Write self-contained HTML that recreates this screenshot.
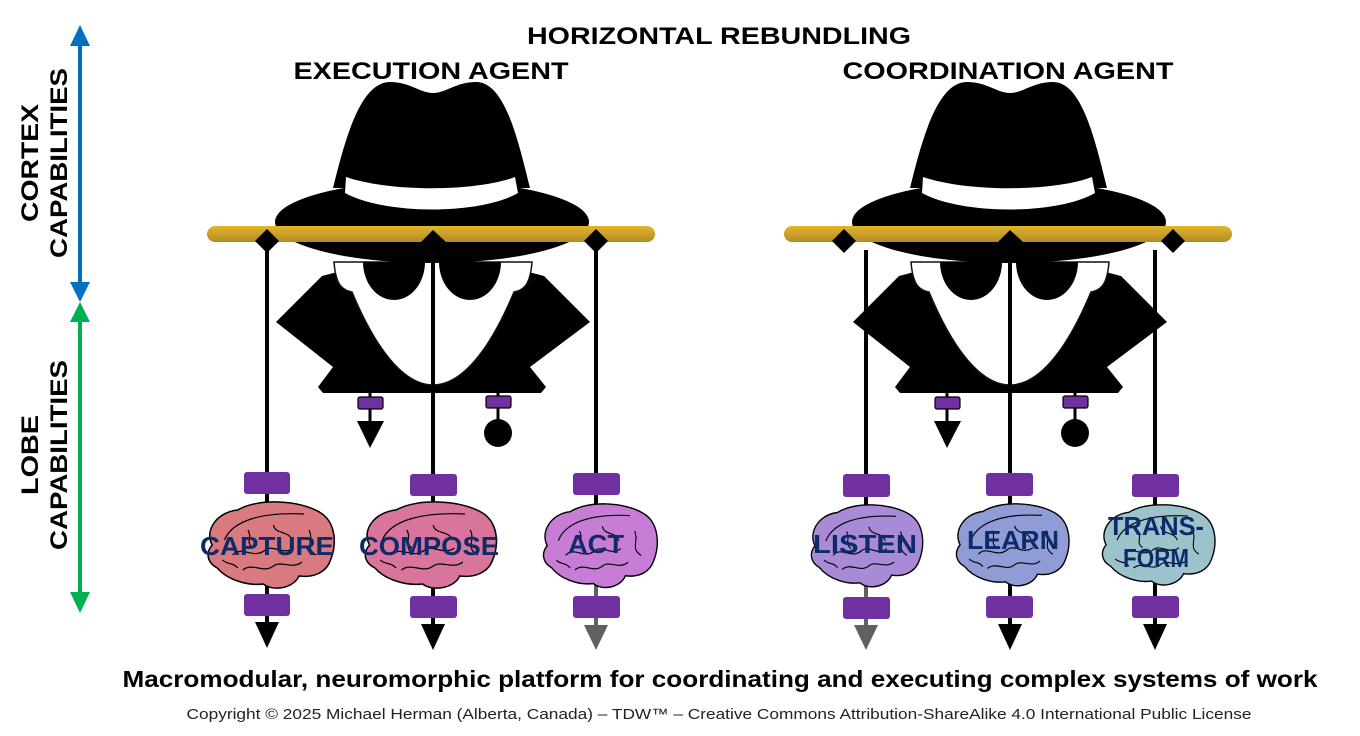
<!DOCTYPE html>
<html><head><meta charset="utf-8"><style>
html,body{margin:0;padding:0;background:#fff;}
svg{display:block;}
text{font-family:"Liberation Sans",sans-serif;}
</style></head><body>
<svg width="1360" height="736" viewBox="0 0 1360 736" xmlns="http://www.w3.org/2000/svg">
<defs>
<linearGradient id="gold" x1="0" y1="0" x2="0" y2="1">
<stop offset="0" stop-color="#e2b52a"/><stop offset="1" stop-color="#b38a25"/>
</linearGradient>
<g id="agent">
  <path d="M276,322 L322,276 L345,270 L521,270 L544,276 L590,322 L530,367 L546,387 L541,393 L323,393 L318,387 L333,367 Z" fill="#000"/>
  <path d="M334,262 C336,288 344,290 352,292 C372,340 400,385 433,385 C466,385 494,340 514,292 C522,290 530,288 532,262 Z" fill="#fff" stroke="#111" stroke-width="1.5"/>
  <path d="M363,262 A31,38 0 0 0 425,262 Z" fill="#000"/>
  <path d="M439,262 A31,38 0 0 0 501,262 Z" fill="#000"/>
  <ellipse cx="432" cy="222" rx="157" ry="41" fill="#000"/>
  <path d="M333,188 C345,140 360,82 390,82 C410,82 420,93 433,93 C446,93 456,82 476,82 C505,82 518,140 530,188 Z" fill="#000"/>
  <path d="M346,177 C390,192 475,192 515,177 L518,193 C480,215 385,215 345,193 Z" fill="#fff"/>
  <rect x="207" y="226" width="448" height="16" rx="8" fill="url(#gold)"/>
  <path d="M267,229 L279,241 L267,253 L255,241 Z" fill="#000"/>
  <path d="M421,242 L433,230 L446,242 Z" fill="#000"/>
  <path d="M596,229 L608,241 L596,253 L584,241 Z" fill="#000"/>
  <line x1="370" y1="393" x2="370" y2="422" stroke="#000" stroke-width="3"/>
  <rect x="358" y="397" width="25" height="12" rx="2" fill="#7030a0" stroke="#000" stroke-width="1.2"/>
  <path d="M357,421 L384,421 L370,448 Z" fill="#000"/>
  <line x1="498" y1="393" x2="498" y2="422" stroke="#000" stroke-width="3"/>
  <rect x="486" y="396" width="25" height="12" rx="2" fill="#7030a0" stroke="#000" stroke-width="1.2"/>
  <circle cx="498" cy="433" r="14" fill="#000"/>
</g>
<path id="brain" d="M10,45 C2,30 15,12 35,10 C55,-2 95,0 115,12 C132,22 132,45 126,60 C122,72 110,78 95,76 C90,88 70,92 60,84 C45,86 25,80 15,68 C4,62 4,52 10,45 Z" stroke="#000" stroke-width="1.5"/>
<g id="folds" fill="none" stroke="#000" stroke-width="1.2">
  <path d="M22,40 C30,20 60,12 100,14"/>
  <path d="M30,55 C40,45 50,60 62,50 C70,44 80,56 90,48"/>
  <path d="M40,70 C50,62 60,74 70,66 C78,60 88,70 98,62"/>
  <path d="M70,25 C72,35 85,30 88,40"/>
  <path d="M105,30 C110,40 100,48 112,55"/>
  <path d="M20,60 C25,65 30,62 35,68"/>
  <path d="M45,30 C50,38 42,42 50,48"/>
</g>
</defs>

<line x1="80" y1="40" x2="80" y2="286" stroke="#0070c0" stroke-width="4"/>
<path d="M70,46 L80,25 L90,46 Z" fill="#0070c0"/>
<path d="M70,282 L80,302 L90,282 Z" fill="#0070c0"/>
<line x1="80" y1="318" x2="80" y2="598" stroke="#00b050" stroke-width="4"/>
<path d="M70,322 L80,302 L90,322 Z" fill="#00b050"/>
<path d="M70,592 L80,613 L90,592 Z" fill="#00b050"/>
<text transform="translate(38,163) rotate(-90)" text-anchor="middle" font-size="24" font-weight="bold" textLength="118" lengthAdjust="spacingAndGlyphs">CORTEX</text>
<text transform="translate(67,163) rotate(-90)" text-anchor="middle" font-size="24" font-weight="bold" textLength="190" lengthAdjust="spacingAndGlyphs">CAPABILITIES</text>
<text transform="translate(38,455) rotate(-90)" text-anchor="middle" font-size="24" font-weight="bold" textLength="80" lengthAdjust="spacingAndGlyphs">LOBE</text>
<text transform="translate(67,455) rotate(-90)" text-anchor="middle" font-size="24" font-weight="bold" textLength="190" lengthAdjust="spacingAndGlyphs">CAPABILITIES</text>

<text x="719" y="44" text-anchor="middle" font-size="24" font-weight="bold" textLength="384" lengthAdjust="spacingAndGlyphs">HORIZONTAL REBUNDLING</text>
<text x="431" y="79" text-anchor="middle" font-size="24" font-weight="bold" textLength="275" lengthAdjust="spacingAndGlyphs">EXECUTION AGENT</text>
<text x="1008" y="79" text-anchor="middle" font-size="24" font-weight="bold" textLength="331" lengthAdjust="spacingAndGlyphs">COORDINATION AGENT</text>

<use href="#agent"/>
<use href="#agent" transform="translate(577,0)"/>

<g stroke="#000" stroke-width="4">
<line x1="267" y1="250" x2="267" y2="628"/>
<line x1="433" y1="242" x2="433" y2="628"/>
<line x1="596" y1="250" x2="596" y2="560"/>
<line x1="866" y1="250" x2="866" y2="590"/>
<line x1="1010" y1="242" x2="1010" y2="628"/>
<line x1="1155" y1="250" x2="1155" y2="628"/>
</g>
<g stroke="#606060" stroke-width="4">
<line x1="596" y1="560" x2="596" y2="628"/>
<line x1="866" y1="580" x2="866" y2="628"/>
</g>

<g transform="translate(202,500) scale(1.02,1.0)"><use href="#brain" fill="#d97a80"/><use href="#folds"/></g>
<g transform="translate(359,500) scale(1.06,1.0)"><use href="#brain" fill="#d9759c"/><use href="#folds"/></g>
<g transform="translate(538,502) scale(0.92,0.97)"><use href="#brain" fill="#c77cd6"/><use href="#folds"/></g>
<g transform="translate(806,503) scale(0.9,0.95)"><use href="#brain" fill="#a98ad6"/><use href="#folds"/></g>
<g transform="translate(951,502) scale(0.91,0.95)"><use href="#brain" fill="#8f9cd6"/><use href="#folds"/></g>
<g transform="translate(1097,503) scale(0.91,0.93)"><use href="#brain" fill="#9cc3cc"/><use href="#folds"/></g>

<g fill="#7030a0">
<rect x="244" y="472" width="46" height="22" rx="3"/><rect x="244" y="594" width="46" height="22" rx="3"/>
<rect x="410" y="474" width="47" height="22" rx="3"/><rect x="410" y="596" width="47" height="22" rx="3"/>
<rect x="573" y="473" width="47" height="22" rx="3"/><rect x="573" y="596" width="47" height="22" rx="3"/>
<rect x="843" y="474" width="47" height="23" rx="3"/><rect x="843" y="597" width="47" height="22" rx="3"/>
<rect x="986" y="473" width="47" height="23" rx="3"/><rect x="986" y="596" width="47" height="22" rx="3"/>
<rect x="1132" y="474" width="47" height="23" rx="3"/><rect x="1132" y="596" width="47" height="22" rx="3"/>
</g>

<path d="M255,622 L279,622 L267,648 Z" fill="#000"/>
<path d="M421,624 L445,624 L433,650 Z" fill="#000"/>
<path d="M584,625 L608,625 L596,650 Z" fill="#606060"/>
<path d="M854,625 L878,625 L866,650 Z" fill="#606060"/>
<path d="M998,624 L1022,624 L1010,650 Z" fill="#000"/>
<path d="M1143,624 L1167,624 L1155,650 Z" fill="#000"/>

<g fill="#0f2a6a" font-size="26" font-weight="bold" text-anchor="middle" lengthAdjust="spacingAndGlyphs">
<text x="267" y="555" textLength="134" lengthAdjust="spacingAndGlyphs">CAPTURE</text>
<text x="429" y="555" textLength="140" lengthAdjust="spacingAndGlyphs">COMPOSE</text>
<text x="596" y="553" textLength="56" lengthAdjust="spacingAndGlyphs">ACT</text>
<text x="865" y="553" textLength="104" lengthAdjust="spacingAndGlyphs">LISTEN</text>
<text x="1013" y="549" textLength="92" lengthAdjust="spacingAndGlyphs">LEARN</text>
<text x="1156" y="535" textLength="96" lengthAdjust="spacingAndGlyphs">TRANS-</text>
<text x="1156" y="567" textLength="66" lengthAdjust="spacingAndGlyphs">FORM</text>
</g>

<text x="720" y="687" text-anchor="middle" font-size="23" font-weight="bold" textLength="1195" lengthAdjust="spacingAndGlyphs">Macromodular, neuromorphic platform for coordinating and executing complex systems of work</text>
<text x="719" y="719" text-anchor="middle" font-size="15" fill="#222" textLength="1065" lengthAdjust="spacingAndGlyphs">Copyright © 2025 Michael Herman (Alberta, Canada) – TDW™ – Creative Commons Attribution-ShareAlike 4.0 International Public License</text>
</svg>
</body></html>
